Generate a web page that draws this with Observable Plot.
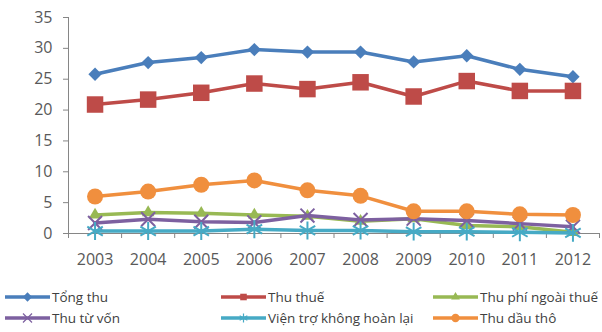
<!DOCTYPE html>
<html>
<head>
<meta charset="utf-8">
<script src="https://cdn.jsdelivr.net/npm/d3@7"></script>
<script src="https://cdn.jsdelivr.net/npm/@observablehq/plot@0.6"></script>
<style>
  html, body { margin: 0; padding: 0; background: #fff; }
  #chart { width: 602px; height: 332px; overflow: hidden; font-family: "Open Sans", sans-serif; }
  .legend { display: grid; grid-template-columns: 216px 212px 169px; row-gap: 3px; padding-left: 5px; margin-top: 16px; font-size: 13.5px; color: #404040; }
  .legend .item { display: flex; align-items: center; height: 18px; white-space: nowrap; }
  .legend svg { margin-right: 2px; flex: none; }
</style>
</head>
<body>
<div id="chart"></div>
<script>
const years = [2003, 2004, 2005, 2006, 2007, 2008, 2009, 2010, 2011, 2012];
const seriesNames = ["Tổng thu", "Thu thuế", "Thu phí ngoài thuế", "Thu từ vốn", "Viện trợ không hoàn lại", "Thu dầu thô"];
const tongThu = [25.8, 27.7, 28.5, 29.8, 29.4, 29.4, 27.8, 28.8, 26.6, 25.4];
const thuThue = [20.9, 21.7, 22.8, 24.3, 23.4, 24.5, 22.2, 24.7, 23.1, 23.1];
const thuPhi = [3.0, 3.4, 3.3, 3.0, 2.8, 2.0, 2.4, 1.3, 1.1, 0.2];
const thuVon = [1.7, 2.3, 1.9, 1.8, 2.9, 2.2, 2.4, 2.1, 1.6, 1.1];
const vienTro = [0.4, 0.4, 0.4, 0.7, 0.5, 0.5, 0.3, 0.3, 0.2, 0.1];
const dauTho = [6.0, 6.8, 7.9, 8.6, 7.0, 6.1, 3.6, 3.6, 3.1, 3.0];
const yTicks = [0, 5, 10, 15, 20, 25, 30, 35];

const colors = ["#4A7EBB", "#BE4B48", "#98B954", "#7D60A0", "#46AAC5", "#F08F3E"];
const symbols = ["diamond2", "square2", "triangle2", "times", "asterisk", "circle"];
const radii = [6, 10.5, 6, 6.4, 8.5, 8];
const filled = [true, true, true, false, false, true];
const values = [tongThu, thuThue, thuPhi, thuVon, vienTro, dauTho];

const xDomain = [years[0] - 0.5, years[years.length - 1] + 0.5];
const bounds = [...years.map(y => y - 0.5), years[years.length - 1] + 0.5];

const marks = [
  Plot.ruleY([0], {stroke: "#868686", strokeWidth: 1}),
  Plot.ruleX([xDomain[0]], {stroke: "#868686", strokeWidth: 1}),
  Plot.axisY({ticks: yTicks, tickSize: 5, tickPadding: 11, stroke: "#868686", fill: "#595959", fontSize: 16, label: null}),
  Plot.axisX({ticks: bounds, tickSize: 5, tickFormat: () => "", stroke: "#868686", label: null}),
  Plot.axisX({ticks: years, tickSize: 0, tickPadding: 20, tickFormat: d => String(d), fill: "#595959", fontSize: 16, label: null})
];
values.forEach((vals, i) => {
  const data = years.map((y, j) => ({year: y, value: vals[j]}));
  marks.push(Plot.line(data, {x: "year", y: "value", stroke: colors[i], strokeWidth: 3.5}));
  marks.push(Plot.dot(data, {
    x: "year", y: "value", symbol: () => symbols[i], r: radii[i],
    fill: filled[i] ? colors[i] : "none",
    stroke: colors[i], strokeWidth: filled[i] ? 0 : 2
  }));
});

const plot = Plot.plot({
  width: 602,
  height: 272,
  marginTop: 17,
  marginBottom: 39,
  marginLeft: 68,
  marginRight: 3,
  style: {fontFamily: "Open Sans, sans-serif", fontSize: "16px", background: "#fff"},
  x: {domain: xDomain, axis: null, label: null},
  y: {domain: [0, 35], axis: null, label: null},
  symbol: {type: "identity"},
  marks
});
const chart = document.getElementById("chart");
chart.appendChild(plot);

const legend = document.createElement("div");
legend.className = "legend";
const symMap = {diamond2: d3.symbolDiamond2, square2: d3.symbolSquare2, triangle2: d3.symbolTriangle2, times: d3.symbolTimes, asterisk: d3.symbolAsterisk, circle: d3.symbolCircle};
seriesNames.forEach((name, i) => {
  const item = document.createElement("div");
  item.className = "item";
  const sw = d3.create("svg").attr("width", 45).attr("height", 12);
  sw.append("line").attr("x1", 0).attr("x2", 45).attr("y1", 6).attr("y2", 6)
    .attr("stroke", colors[i]).attr("stroke-width", 3.5);
  sw.append("path").attr("transform", "translate(22.5,6)")
    .attr("d", d3.symbol(symMap[symbols[i]], 55)())
    .attr("fill", filled[i] ? colors[i] : "none")
    .attr("stroke", filled[i] ? "none" : colors[i]).attr("stroke-width", 1.2);
  item.appendChild(sw.node());
  const t = document.createElement("span");
  t.textContent = name;
  item.appendChild(t);
  legend.appendChild(item);
});
chart.appendChild(legend);
</script>
</body>
</html>
